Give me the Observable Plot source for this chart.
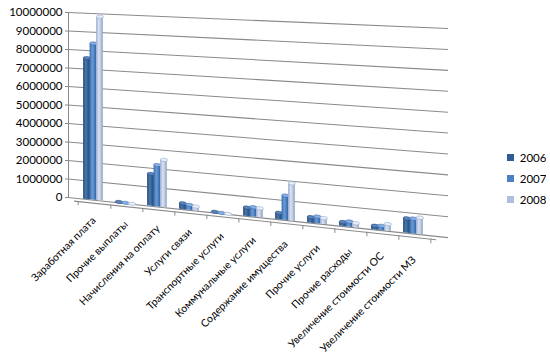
<!DOCTYPE html>
<html><head><meta charset="utf-8">
<script src="https://cdn.jsdelivr.net/npm/d3@7"></script>
<script src="https://cdn.jsdelivr.net/npm/@observablehq/plot@0.6"></script>
<style>
body{margin:0;background:#fff;}
#wrap{position:relative;width:550px;height:361px;overflow:hidden;font-family:Lato,sans-serif;}
#chart{position:absolute;left:0;top:0;}
#legend{position:absolute;left:507px;top:147px;}
</style></head><body><div id="wrap"><div id="chart"></div><div id="legend"></div></div>
<script>
const categories = ["Заработная плата","Прочие выплаты","Начисления на оплату","Услуги связи","Транспортные услуги","Коммунальные услуги","Содержание имущества","Прочие услуги","Прочие расходы","Увеличение стоимости ОС","Увеличение стоимости МЗ"];
const years = ["2006","2007","2008"];
const v2006 = [7600000, 50000, 1700000, 330000, 60000, 450000, 350000, 300000, 220000, 200000, 720000];
const v2007 = [8400000, 40000, 2200000, 280000, 40000, 500000, 1250000, 360000, 280000, 230000, 740000];
const v2008 = [9850000, 30000, 2500000, 230000, 30000, 480000, 1900000, 320000, 230000, 350000, 820000];
const yTicks = [0,1000000,2000000,3000000,4000000,5000000,6000000,7000000,8000000,9000000,10000000];
const seriesColors = ["#2f5c93","#4a80c4","#aebfdd"];
const topColors = {"2006": "#5784bb", "2007": "#85afe6", "2008": "#e8eef8"};
const edgeColors = {"2006": "#1f406b", "2007": "#2d5b96", "2008": "#8499be"};
const gradStops = {
  "2006": [["0","#23487b"],["0.4","#4877b1"],["1","#21446f"]],
  "2007": [["0","#3768aa"],["0.4","#6a9cda"],["1","#31619e"]],
  "2008": [["0","#97add2"],["0.4","#dbe4f3"],["1","#91a7cd"]]
};

const series = {"2006": v2006, "2007": v2007, "2008": v2008};
const rows = years.flatMap(y => categories.map((c, i) => ({category: c, year: y, value: series[y][i]})));

const W = 550, H = 361, L = 68, R = 448, TOP = 12, BOT = 197;
const insL = 6, insR = 14;
const bandW = (R - L - insL - insR) / categories.length;
const barW = 7.5, step = 6.5, shift = -1;
const yearDx = {"2006": shift - step, "2007": shift, "2008": shift + step};
const grid = "#8a8a8a";

const barMarks = years.flatMap(y => [
  Plot.barY(rows.filter(d => d.year === y), {
    x: "category", y: "value", fill: `url(#cyl${y})`, dx: yearDx[y],
    insetLeft: (bandW - barW) / 2, insetRight: (bandW - barW) / 2
  }),
  Plot.dot(rows.filter(d => d.year === y), {
    x: "category", y: "value", dx: yearDx[y], r: barW / 2, fill: topColors[y], stroke: edgeColors[y], strokeWidth: 0.6
  })
]);

const plot = Plot.plot({
  width: W, height: H, marginLeft: L, marginRight: W - R, marginTop: TOP, marginBottom: H - BOT,
  style: {fontFamily: "Lato, sans-serif", fontSize: "11.5px", color: "#000", background: "transparent"},
  x: {domain: categories, padding: 0, insetLeft: insL, insetRight: insR, axis: null},
  y: {domain: [0, 10000000], ticks: yTicks, tickFormat: d3.format("d"), tickSize: 3, tickPadding: 3, line: true, label: null},
  marks: [
    Plot.ruleY(yTicks, {stroke: grid}),
    Plot.ruleY([0], {stroke: grid, dy: 3, insetLeft: 6, insetRight: 12}),
    Plot.ruleX(categories, {x: d => d, dx: bandW / 2, y1: 0, y2: -220000, dy: 3, stroke: grid}),
    Plot.ruleX([categories[0]], {x: d => d, dx: -bandW / 2, y1: 0, y2: -220000, dy: 3, stroke: grid}),
    ...barMarks,
    Plot.text(categories, {x: d => d, frameAnchor: "bottom", rotate: -45, textAnchor: "end", dy: 20, dx: 2, fontSize: 10.5, fill: "#000"})
  ]
});
document.getElementById("chart").append(plot);
const svg = plot.tagName.toLowerCase() === "svg" ? plot : plot.querySelector("svg");

// gradients for cylinder look
const NS = "http://www.w3.org/2000/svg";
const defs = document.createElementNS(NS, "defs");
for (const y of years) {
  const g = document.createElementNS(NS, "linearGradient");
  g.setAttribute("id", `cyl${y}`); g.setAttribute("x1", "0"); g.setAttribute("x2", "1"); g.setAttribute("y1", "0"); g.setAttribute("y2", "0");
  for (const [o, c] of gradStops[y]) { const s = document.createElementNS(NS, "stop"); s.setAttribute("offset", o); s.setAttribute("stop-color", c); g.append(s); }
  defs.append(g);
}
svg.insertBefore(defs, svg.firstChild);

// perspective (Excel 3D back wall) warp
const dropTop = 16, growRight = 0.13, labelSlope = 0.123, ellipseSquash = 0.42;
function F(x, y) { const u = (x - L) / (R - L); return TOP + dropTop * u + (y - TOP) * (1 + growRight * u); }
const sr = svg.getBoundingClientRect();
function warp(el, k = 1) {
  const r = el.getBoundingClientRect();
  const xc = r.x + r.width / 2 - sr.x, yc = r.y + r.height / 2 - sr.y;
  const u = (xc - L) / (R - L);
  const Fx = (dropTop + growRight * (yc - TOP)) / (R - L);
  const S = (1 + growRight * u) * k;
  const f = F(xc, yc) - Fx * xc - S * yc;
  const A = svg.createSVGMatrix(); A.a = 1; A.b = Fx; A.c = 0; A.d = S; A.e = 0; A.f = f;
  const p = el.parentNode.getCTM();
  const Wm = p.inverse().multiply(A).multiply(p);
  const old = el.getAttribute("transform") || "";
  el.setAttribute("transform", `matrix(${Wm.a},${Wm.b},${Wm.c},${Wm.d},${Wm.e},${Wm.f}) ${old}`);
}
const lines = [...svg.querySelectorAll('g[aria-label="rule"] line, g[aria-label="bar"] rect')];
const dots = [...svg.querySelectorAll('g[aria-label="dot"] circle')];
lines.forEach(el => warp(el));
dots.forEach(el => warp(el, ellipseSquash));
for (const t of svg.querySelectorAll('g[aria-label="text"] text')) {
  const r = t.getBoundingClientRect();
  const ax = r.right - sr.x;
  const old = t.getAttribute("transform") || "";
  t.setAttribute("transform", `translate(0,${labelSlope * (ax - L)}) ${old}`);
}
// grey axis strokes
for (const l of svg.querySelectorAll('g[aria-label="y-axis tick"] path, line[aria-label="frame"]')) l.setAttribute("stroke", grid);

const leg = Plot.legend({color: {type: "ordinal", domain: years, range: seriesColors}, legend: "swatches", columns: 1, swatchWidth: 7, swatchHeight: 7, style: {fontFamily: "Lato, sans-serif", fontSize: "11.5px", color: "#000"}});
document.getElementById("legend").append(leg);
for (const d of leg.querySelectorAll("div")) {
  if (d.querySelector(":scope > svg")) { d.style.height = "21px"; d.style.display = "flex"; d.style.alignItems = "center"; d.style.paddingBottom = "0"; d.style.margin = "0"; }
}
</script></body></html>
